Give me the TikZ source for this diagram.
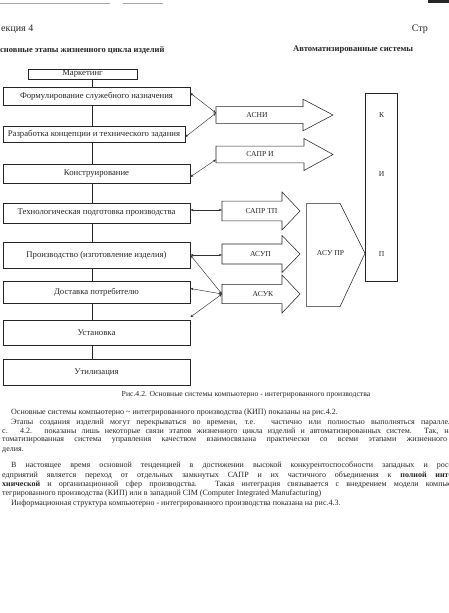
\documentclass[tikz,border=0pt]{standalone}
\usepackage{fontspec}
\setmainfont{Liberation Serif}
\usetikzlibrary{arrows.meta}
\newcommand\blockarr[9]{%
  % #1 name, #2 tail x, #3 head base x, #4 tip x, #5 centre y, #6 body half, #7 head half, #8 label x, #9 label
  \draw[shapeline] (#2,#5-#6) -- (#3,#5-#6) -- (#3,#5-#7) -- (#4,#5) -- (#3,#5+#7) -- (#3,#5+#6) -- (#2,#5+#6) -- cycle;
  \node[arrlabel] (#1) at (#8,#5) {#9};
  \coordinate (#1-t) at (#2,#5);
}
\begin{document}
\begin{tikzpicture}[x=1pt,y=-1pt,
  shapeline/.style={draw=black!85, line width=0.55pt},
  box/.style={draw=black!85, line width=0.55pt, inner sep=0pt, font=\fontsize{8.7}{10}\selectfont, text=black!85},
  arrlabel/.style={inner sep=0pt, font=\fontsize{7.6}{9}\selectfont, text=black!85},
  body/.style={inner sep=0pt, anchor=west, font=\fontsize{8}{9}\selectfont, text=black!85},
  head/.style={inner sep=0pt, anchor=west, font=\fontsize{10}{11}\selectfont, text=black!85},
  dbl/.style={{Stealth[length=3.2pt,width=2.4pt]}-{Stealth[length=3.2pt,width=2.4pt]}, draw=black!80, line width=0.45pt},
  spine/.style={draw=black!85, line width=0.55pt}
]
\useasboundingbox (0,0) rectangle (449,613);
% scan decorations at the top
\draw[black!35, line width=1pt] (0,3) -- (110,3);
\draw[black!35, line width=1pt] (123,3) -- (163,3);
\fill[black!85] (428,0) rectangle (449,3);

% page header
\node[head] (hdrl) at (1,29) {екция 4};
\node[head, anchor=east] (hdrr) at (428,29) {Стр};
\node[head, font=\fontsize{8.5}{10}\selectfont\bfseries] (hl) at (0,50) {сновные этапы жизненного цикла изделий};
\node[head, font=\fontsize{8.6}{10}\selectfont\bfseries] (hr) at (293,50) {Автоматизированные системы};

% life-cycle stages
\node[box, minimum width=109pt, minimum height=10pt] (mark) at (82.5,74) {Маркетинг};
\node[box, minimum width=187pt, minimum height=18pt] (form) at (96.5,96) {Формулирование служебного назначения};
\node[box, minimum width=182pt, minimum height=16pt] (razr) at (94,134) {Разработка концепции и технического задания};
\node[box, minimum width=187pt, minimum height=19pt] (konstr) at (96.5,173.5) {Конструирование};
\node[box, minimum width=187pt, minimum height=20pt] (tekh) at (96.5,213) {Технологическая подготовка производства};
\node[box, minimum width=187pt, minimum height=26pt] (proizv) at (96.5,255) {Производство (изготовление изделия)};
\node[box, minimum width=187pt, minimum height=22pt] (dost) at (96.5,292) {Доставка потребителю};
\node[box, minimum width=187pt, minimum height=25pt] (ustan) at (96.5,332.5) {Установка};
\node[box, minimum width=187pt, minimum height=26pt] (util) at (96.5,372) {Утилизация};

\coordinate (spx) at (92.7,0);
\draw[spine] (mark.south -| spx) -- (form.north -| spx);
\draw[spine] (form.south -| spx) -- (razr.north -| spx);
\draw[spine] (razr.south -| spx) -- (konstr.north -| spx);
\draw[spine] (konstr.south -| spx) -- (tekh.north -| spx);
\draw[spine] (tekh.south -| spx) -- (proizv.north -| spx);
\draw[spine] (proizv.south -| spx) -- (dost.north -| spx);
\draw[spine] (dost.south -| spx) -- (ustan.north -| spx);
\draw[spine] (ustan.south -| spx) -- (util.north -| spx);

% automated systems (block arrows)
\blockarr{asni}{216}{303}{333}{115}{8.3}{15.8}{257}{АСНИ}
\blockarr{sapri}{216}{304}{333}{154.5}{8.3}{16}{260}{САПР И}
\blockarr{sapptp}{222}{282}{300}{211}{9.8}{19}{261.5}{САПР ТП}
\blockarr{asuk}{222}{282}{300}{294}{9.6}{19}{263}{АСУК}
\blockarr{asup}{222}{282}{300}{254}{10}{18.5}{260.5}{АСУП}

% ASU PR
\draw[shapeline] (306.7,203.3) -- (340,203.3) -- (365,253.3) -- (340,306.7) -- (306.7,306.7) -- cycle;
\node[arrlabel] (asupr) at (330.5,253.3) {АСУ ПР};

% KIP column
\node[box, minimum width=32.3pt, minimum height=188pt] (kip) at (381.2,187) {};
\node[arrlabel] (kk) at (381.7,115) {К};
\node[arrlabel] (ki) at (381.7,174.3) {И};
\node[arrlabel] (kp) at (381.7,254.3) {П};

% links
\draw[dbl] ([yshift=3pt]form.east) -- ([yshift=2pt]asni-t);
\draw[dbl] ([yshift=-3pt]razr.east) -- ([yshift=2pt]asni-t);
\draw[dbl] ([yshift=-3.5pt]konstr.east) -- ([yshift=-5pt]sapri-t);
\draw[dbl] ([yshift=3pt]tekh.east) -- ([yshift=1pt]sapptp-t);
\draw[dbl] (proizv.east) -- ([yshift=-1pt]asup-t);
\draw[dbl] (asuk-t) -- (proizv.east);
\draw[dbl] (asuk-t) -- ([yshift=3.5pt]dost.east);
\draw[dbl] (asuk-t) -- ([yshift=2.5pt]ustan.north east);

% caption
\node[body, anchor=center, font=\fontsize{7.7}{9}\selectfont] (cap) at (246,395) {Рис.4.2. Основные системы компьютерно - интегрированного производства};

% text
\node[body] (l1) at (11,413) {Основные системы компьютерно \textasciitilde{} интегрированного производства (КИП) показаны на рис.4.2.};
\node[body] (l2) at (11,422.3) {\makebox[441pt][s]{Этапы создания изделий могут перекрываться во времени, т.е. частично или полностью выполняться параллел}};
\node[body] (l3) at (2,431.6) {\makebox[450pt][s]{с. 4.2. показаны лишь некоторые связи этапов жизненного цикла изделий и автоматизированных систем. Так, на}};
\node[body] (l4) at (2,440.9) {\makebox[445pt][s]{томатизированная система управления качеством взаимосвязана практически со всеми этапами жизненного}};
\node[body] (l5) at (2,450.2) {делия.};
\node[body] (l6) at (11,465.5) {\makebox[441pt][s]{В настоящее время основной тенденцией в достижении высокой конкурентоспособности западных и росс}};
\node[body] (l7) at (2,475) {\makebox[450pt][s]{едприятий является переход от отдельных замкнутых САПР и их частичного объединения к \textbf{полной инте}}};
\node[body] (l8) at (2,484.5) {\makebox[450pt][s]{\textbf{хнической} и организационной сфер производства. Такая интеграция связывается с внедрением модели компью}};
\node[body] (l9) at (2,494) {тегрированного производства (КИП) или в западной CIM (Computer Integrated Manufacturing)};
\node[body] (l10) at (11,503.5) {Информационная структура компьютерно - интегрированного производства показана на рис.4.3.};
\end{tikzpicture}
\end{document}
